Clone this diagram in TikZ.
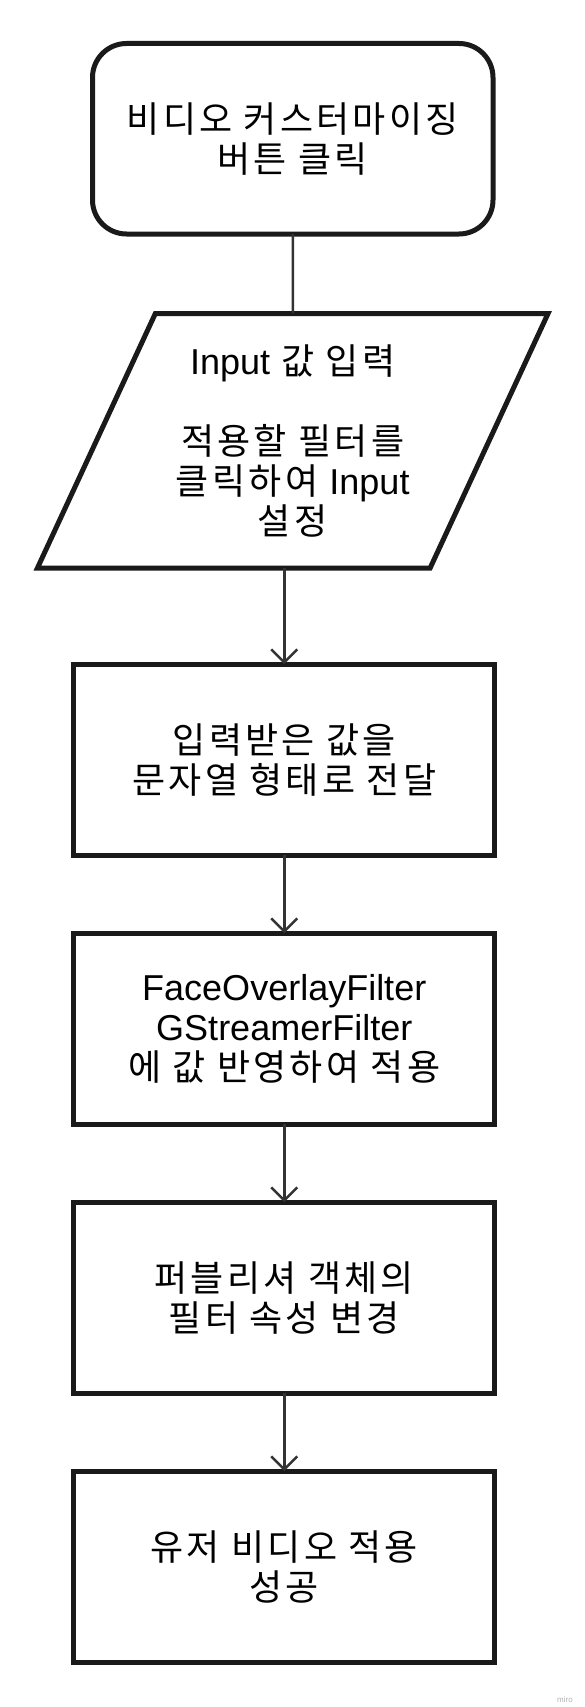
\documentclass[tikz,border=0pt]{standalone}
\usepackage{fontspec}
\setmainfont{Liberation Sans}
\newfontfamily\krfont[LetterSpace=9]{Noto Sans CJK KR}
\newcommand{\latin}[1]{{\rmfamily #1}}
\usetikzlibrary{arrows.meta,positioning,shapes.geometric}
\definecolor{boxline}{HTML}{1A1A1A}
\definecolor{linkgray}{HTML}{333333}

\begin{document}
\begin{tikzpicture}[x=1pt,y=1pt,>={Straight Barb[length=13pt,width=26pt]},
    node distance=78pt,align=center,
    font=\krfont\fontsize{36pt}{40pt}\selectfont,
    stepbox/.style={draw=boxline,line width=5pt,outer sep=0pt,minimum width=421pt,minimum height=191pt},
    startbox/.style={stepbox,rounded corners=34pt,minimum width=400.5pt,minimum height=190.5pt},
    iobox/.style={draw=boxline,line width=5pt,outer sep=0pt,inner sep=0pt,trapezium,
        trapezium left angle=62.5,trapezium right angle=117.5,trapezium stretches,
        minimum width=514pt,minimum height=254.5pt},
    link/.style={draw=linkgray,line width=2.5pt}]
    \useasboundingbox (0,0) rectangle (585,-1707);
    \node[startbox] (b1) at (292.75,-138.75) {비디오 커스터마이징\\버튼 클릭};
    \node[iobox,below=79.5pt of b1] (io) {\latin{Input} 값 입력\\[40pt]적용할 필터를\\클릭하여 \latin{Input}\\설정};
    \node[stepbox,below=96pt of io,xshift=-8.5pt] (b2) {입력받은 값을\\문자열 형태로 전달};
    \node[stepbox,below=of b2] (b3) {\latin{FaceOverlayFilter}\\\latin{GStreamerFilter}\\에 값 반영하여 적용};
    \node[stepbox,below=of b3] (b4) {퍼블리셔 객체의\\필터 속성 변경};
    \node[stepbox,below=of b4] (b5) {유저 비디오 적용\\성공};
    \node[font=\rmfamily\fontsize{8pt}{8pt}\selectfont,text=black!30] (wm) at (565,-1700) {miro};
    \draw[link] (b1) -- (io);
    \draw[link,->] (b2.north |- io.south) -- (b2);
    \draw[link,->] (b2) -- (b3);
    \draw[link,->] (b3) -- (b4);
    \draw[link,->] (b4) -- (b5);
\end{tikzpicture}
\end{document}
